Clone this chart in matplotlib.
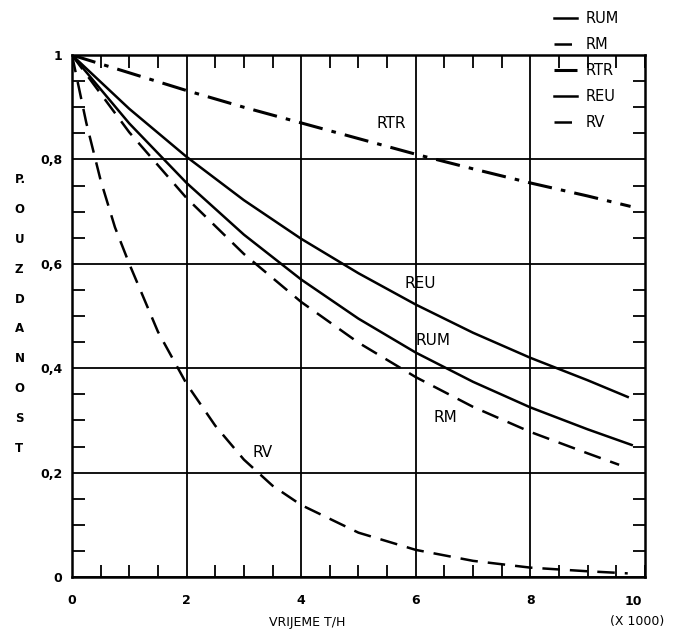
import numpy as np
import matplotlib.pyplot as plt
from matplotlib.ticker import MultipleLocator

# values (time in thousands of hours)
t_rtr = [0, 1, 2, 3, 4, 5, 6, 7, 8, 9, 9.75]
r_rtr = [1, 0.966, 0.932, 0.9, 0.87, 0.84, 0.81, 0.782, 0.755, 0.73, 0.71]

t_reu = [0, 1, 2, 3, 4, 5, 6, 7, 8, 9, 9.7]
r_reu = [1, 0.897, 0.805, 0.722, 0.648, 0.582, 0.522, 0.468, 0.42, 0.377, 0.345]

t_rum = [0, 1, 2, 3, 4, 5, 6, 7, 8, 9, 9.77]
r_rum = [1, 0.869, 0.755, 0.656, 0.57, 0.495, 0.43, 0.374, 0.325, 0.283, 0.253]

t_rm = [0, 1, 2, 3, 4, 5, 6, 7, 8, 9, 9.55]
r_rm = [1, 0.852, 0.726, 0.619, 0.527, 0.449, 0.383, 0.326, 0.278, 0.237, 0.215]

t_rv = [0, 0.25, 0.5, 0.75, 1, 1.5, 2, 2.5, 3, 3.5, 4, 5, 6, 7, 8, 9, 9.7]
r_rv = [1, 0.87, 0.76, 0.67, 0.6, 0.47, 0.37, 0.29, 0.225, 0.175, 0.138,
        0.085, 0.052, 0.031, 0.018, 0.011, 0.007]

curve_labels = ['RTR', 'REU', 'RUM', 'RM', 'RV']
label_pos = [(5.58, 0.868), (6.07, 0.563), (6.3, 0.454), (6.51, 0.305), (3.32, 0.239)]
y_title = ['P.', 'O', 'U', 'Z', 'D', 'A', 'N', 'O', 'S', 'T']

fig = plt.figure(figsize=(6.76, 6.35), dpi=100)
ax = fig.add_axes([0.1065, 0.0913, 0.8475, 0.822])

lw = 1.8
l_rum, = ax.plot(t_rum, r_rum, color='black', lw=lw, ls='-')
l_rm, = ax.plot(t_rm, r_rm, color='black', lw=lw, ls=(0, (7, 4)))
l_rtr, = ax.plot(t_rtr, r_rtr, color='black', lw=2.2, ls=(0, (8, 3, 1.5, 3)))
l_reu, = ax.plot(t_reu, r_reu, color='black', lw=lw, ls='-')
l_rv, = ax.plot(t_rv, r_rv, color='black', lw=lw, ls=(0, (7, 4)))

for name, (x, y) in zip(curve_labels, label_pos):
    ax.text(x, y, name, fontsize=11, ha='center', va='center')

ax.set_xlim(0, 10)
ax.set_ylim(0, 1)
ax.xaxis.set_major_locator(MultipleLocator(2))
ax.xaxis.set_minor_locator(MultipleLocator(0.5))
ax.yaxis.set_major_locator(MultipleLocator(0.2))
ax.yaxis.set_minor_locator(MultipleLocator(0.05))
ax.grid(True, which='major', color='black', lw=1.3)
ax.tick_params(which='both', direction='in', top=True, right=True, color='black')
ax.tick_params(which='major', length=0, labelsize=9)
ax.tick_params(axis='x', which='major', pad=12)
ax.tick_params(axis='y', which='major', pad=7)
ax.tick_params(which='minor', length=9, width=1.3)
ax.set_xticks([0, 2, 4, 6, 8])
ax.set_xticklabels(['0', '2', '4', '6', '8'], fontweight='bold')
ax.set_yticks([0, 0.2, 0.4, 0.6, 0.8, 1])
ax.set_yticklabels(['0', '0,2', '0,4', '0,6', '0,8', '1'], fontweight='bold')
for s in ax.spines.values():
    s.set_linewidth(1.8)

fig.text(0.937, 0.052, '10', ha='center', va='center', fontsize=9, fontweight='bold')
fig.text(0.942, 0.021, '(X 1000)', ha='center', va='center', fontsize=9)
fig.text(0.455, 0.019, 'VRIJEME T/H', ha='center', va='center', fontsize=9)

# stacked vertical axis title
for i, ch in enumerate(y_title):
    fig.text(0.022, 0.717 - i * 0.047, ch, ha='left', va='center', fontsize=8.5,
             fontweight='bold')

leg = fig.legend([l_rum, l_rm, l_rtr, l_reu, l_rv], ['RUM', 'RM', 'RTR', 'REU', 'RV'],
                 loc='upper left', bbox_to_anchor=(0.8, 1.003), frameon=False,
                 handlelength=1.6, fontsize=10.5, labelspacing=0.75, handletextpad=0.6)

fig.savefig('out.png', dpi=100, facecolor='white')
